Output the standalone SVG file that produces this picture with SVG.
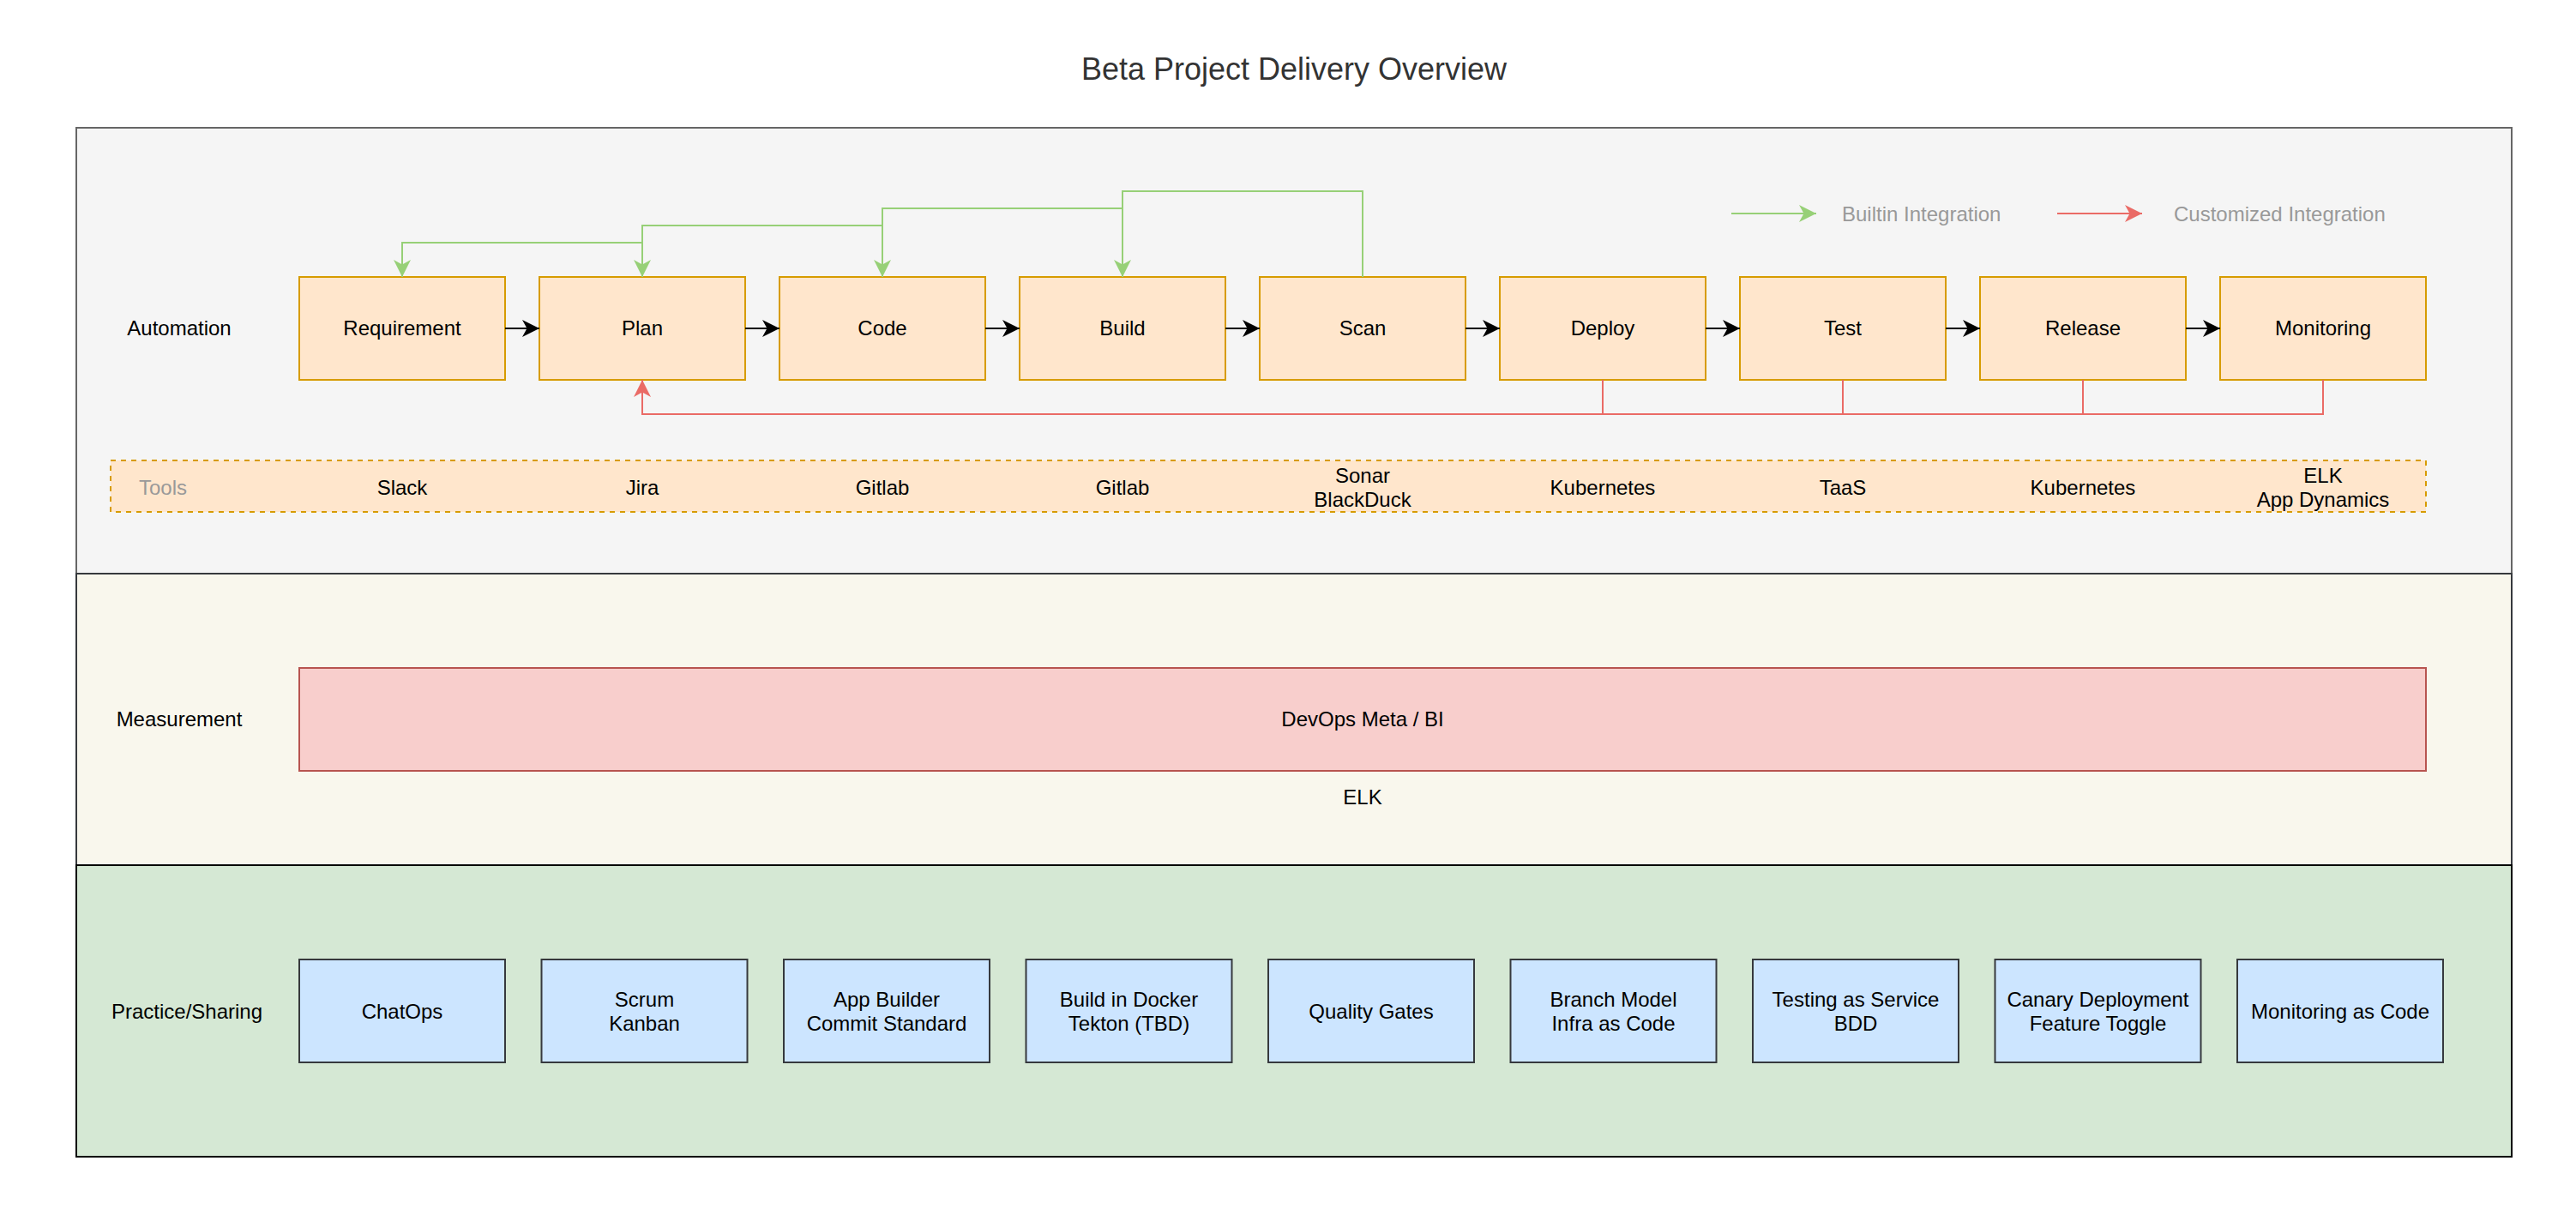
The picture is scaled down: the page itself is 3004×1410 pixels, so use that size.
<svg xmlns="http://www.w3.org/2000/svg" width="3004" height="1410" viewBox="0 0 3004 1410">
<style>
text{font-family:"Liberation Sans",Arial,Helvetica,sans-serif;font-size:24px;fill:#000;text-anchor:middle}
.title{font-size:36px;fill:#333}
.gray{fill:#999}
.legend{fill:#999;text-anchor:start}
.step{fill:#ffe6cc;stroke:#d79b00;stroke-width:2}
.prac{fill:#cce5ff;stroke:#36393d;stroke-width:2}
.flow{fill:none;stroke:#000;stroke-width:2}
.green{fill:none;stroke:#97d077;stroke-width:2}
.red{fill:none;stroke:#ea6b66;stroke-width:2}
</style>
<defs>
<marker id="ab" markerUnits="userSpaceOnUse" markerWidth="20" markerHeight="20" viewBox="0 0 18 18" refX="18" refY="9" orient="auto"><path d="M0,0 L18,9 L0,18 L5,9 Z" fill="#000"/></marker>
<marker id="ag" markerUnits="userSpaceOnUse" markerWidth="20" markerHeight="20" viewBox="0 0 18 18" refX="18" refY="9" orient="auto"><path d="M0,0 L18,9 L0,18 L5,9 Z" fill="#97d077"/></marker>
<marker id="ar" markerUnits="userSpaceOnUse" markerWidth="20" markerHeight="20" viewBox="0 0 18 18" refX="18" refY="9" orient="auto"><path d="M0,0 L18,9 L0,18 L5,9 Z" fill="#ea6b66"/></marker>
</defs>
<rect width="3004" height="1410" fill="#fff"/>
<text class="title" x="1509" y="93">Beta Project Delivery Overview</text>

<g id="lane-automation"><rect x="89" y="149" width="2840" height="520" fill="#f5f5f5" stroke="#666" stroke-width="2"/><text x="209" y="391">Automation</text></g>
<g id="lane-measurement"><rect x="89" y="669" width="2840" height="340" fill="#f9f7ed" stroke="#36393d" stroke-width="2"/><text x="209" y="847">Measurement</text></g>
<g id="lane-practice"><rect x="89" y="1009" width="2840" height="340" fill="#d5e8d4" stroke="#000" stroke-width="2"/><text x="218" y="1188">Practice/Sharing</text></g>

<g id="tools">
<rect x="129" y="537" width="2700" height="60" fill="#ffe6cc" stroke="#d79b00" stroke-width="2" stroke-dasharray="6 6"/>
<text class="gray" x="190" y="577">Tools</text>
<text x="469" y="577">Slack</text>
<text x="749" y="577">Jira</text>
<text x="1029" y="577">Gitlab</text>
<text x="1309" y="577">Gitlab</text>
<text x="1589" y="563">Sonar</text><text x="1589" y="591">BlackDuck</text>
<text x="1869" y="577">Kubernetes</text>
<text x="2149" y="577">TaaS</text>
<text x="2429" y="577">Kubernetes</text>
<text x="2709" y="563">ELK</text><text x="2709" y="591">App Dynamics</text>
</g>

<g id="node-requirement"><rect class="step" x="349" y="323" width="240" height="120"/><text x="469" y="391">Requirement</text></g>
<g id="node-plan"><rect class="step" x="629" y="323" width="240" height="120"/><text x="749" y="391">Plan</text></g>
<g id="node-code"><rect class="step" x="909" y="323" width="240" height="120"/><text x="1029" y="391">Code</text></g>
<g id="node-build"><rect class="step" x="1189" y="323" width="240" height="120"/><text x="1309" y="391">Build</text></g>
<g id="node-scan"><rect class="step" x="1469" y="323" width="240" height="120"/><text x="1589" y="391">Scan</text></g>
<g id="node-deploy"><rect class="step" x="1749" y="323" width="240" height="120"/><text x="1869" y="391">Deploy</text></g>
<g id="node-test"><rect class="step" x="2029" y="323" width="240" height="120"/><text x="2149" y="391">Test</text></g>
<g id="node-release"><rect class="step" x="2309" y="323" width="240" height="120"/><text x="2429" y="391">Release</text></g>
<g id="node-monitoring"><rect class="step" x="2589" y="323" width="240" height="120"/><text x="2709" y="391">Monitoring</text></g>

<g id="node-devops-meta"><rect x="349" y="779" width="2480" height="120" fill="#f8cecc" stroke="#b85450" stroke-width="2"/><text x="1589" y="847">DevOps Meta / BI</text></g>
<text x="1589" y="938">ELK</text>

<g id="prac-chatops"><rect class="prac" x="349" y="1119" width="240" height="120"/><text x="469" y="1188">ChatOps</text></g>
<g id="prac-scrum"><rect class="prac" x="631.5" y="1119" width="240" height="120"/><text x="751.5" y="1174">Scrum</text><text x="751.5" y="1202">Kanban</text></g>
<g id="prac-appbuilder"><rect class="prac" x="914" y="1119" width="240" height="120"/><text x="1034" y="1174">App Builder</text><text x="1034" y="1202">Commit Standard</text></g>
<g id="prac-docker"><rect class="prac" x="1196.5" y="1119" width="240" height="120"/><text x="1316.5" y="1174">Build in Docker</text><text x="1316.5" y="1202">Tekton (TBD)</text></g>
<g id="prac-quality"><rect class="prac" x="1479" y="1119" width="240" height="120"/><text x="1599" y="1188">Quality Gates</text></g>
<g id="prac-branch"><rect class="prac" x="1761.5" y="1119" width="240" height="120"/><text x="1881.5" y="1174">Branch Model</text><text x="1881.5" y="1202">Infra as Code</text></g>
<g id="prac-testing"><rect class="prac" x="2044" y="1119" width="240" height="120"/><text x="2164" y="1174">Testing as Service</text><text x="2164" y="1202">BDD</text></g>
<g id="prac-canary"><rect class="prac" x="2326.5" y="1119" width="240" height="120"/><text x="2446.5" y="1174">Canary Deployment</text><text x="2446.5" y="1202">Feature Toggle</text></g>
<g id="prac-monitoring"><rect class="prac" x="2609" y="1119" width="240" height="120"/><text x="2729" y="1188">Monitoring as Code</text></g>

<g id="legend">
<line class="green" x1="2019" y1="249" x2="2118" y2="249" marker-end="url(#ag)"/>
<text class="legend" x="2148" y="258">Builtin Integration</text>
<line class="red" x1="2399" y1="249" x2="2498" y2="249" marker-end="url(#ar)"/>
<text class="legend" x="2535" y="258">Customized Integration</text>
</g>

<g id="connectors">
<line class="flow" x1="589" y1="383" x2="629" y2="383" marker-end="url(#ab)"/>
<line class="flow" x1="869" y1="383" x2="909" y2="383" marker-end="url(#ab)"/>
<line class="flow" x1="1149" y1="383" x2="1189" y2="383" marker-end="url(#ab)"/>
<line class="flow" x1="1429" y1="383" x2="1469" y2="383" marker-end="url(#ab)"/>
<line class="flow" x1="1709" y1="383" x2="1749" y2="383" marker-end="url(#ab)"/>
<line class="flow" x1="1989" y1="383" x2="2029" y2="383" marker-end="url(#ab)"/>
<line class="flow" x1="2269" y1="383" x2="2309" y2="383" marker-end="url(#ab)"/>
<line class="flow" x1="2549" y1="383" x2="2589" y2="383" marker-end="url(#ab)"/>
<path class="green" d="M749,323 V283 H469 V323" marker-end="url(#ag)"/>
<path class="green" d="M1029,323 V263 H749 V323" marker-end="url(#ag)"/>
<path class="green" d="M1309,323 V243 H1029 V323" marker-end="url(#ag)"/>
<path class="green" d="M1589,323 V223 H1309 V323" marker-end="url(#ag)"/>
<path class="red" d="M2709,443 V483 H749 V443" marker-end="url(#ar)"/>
<path class="red" d="M1869,443 V483"/>
<path class="red" d="M2149,443 V483"/>
<path class="red" d="M2429,443 V483"/>
</g>
</svg>
